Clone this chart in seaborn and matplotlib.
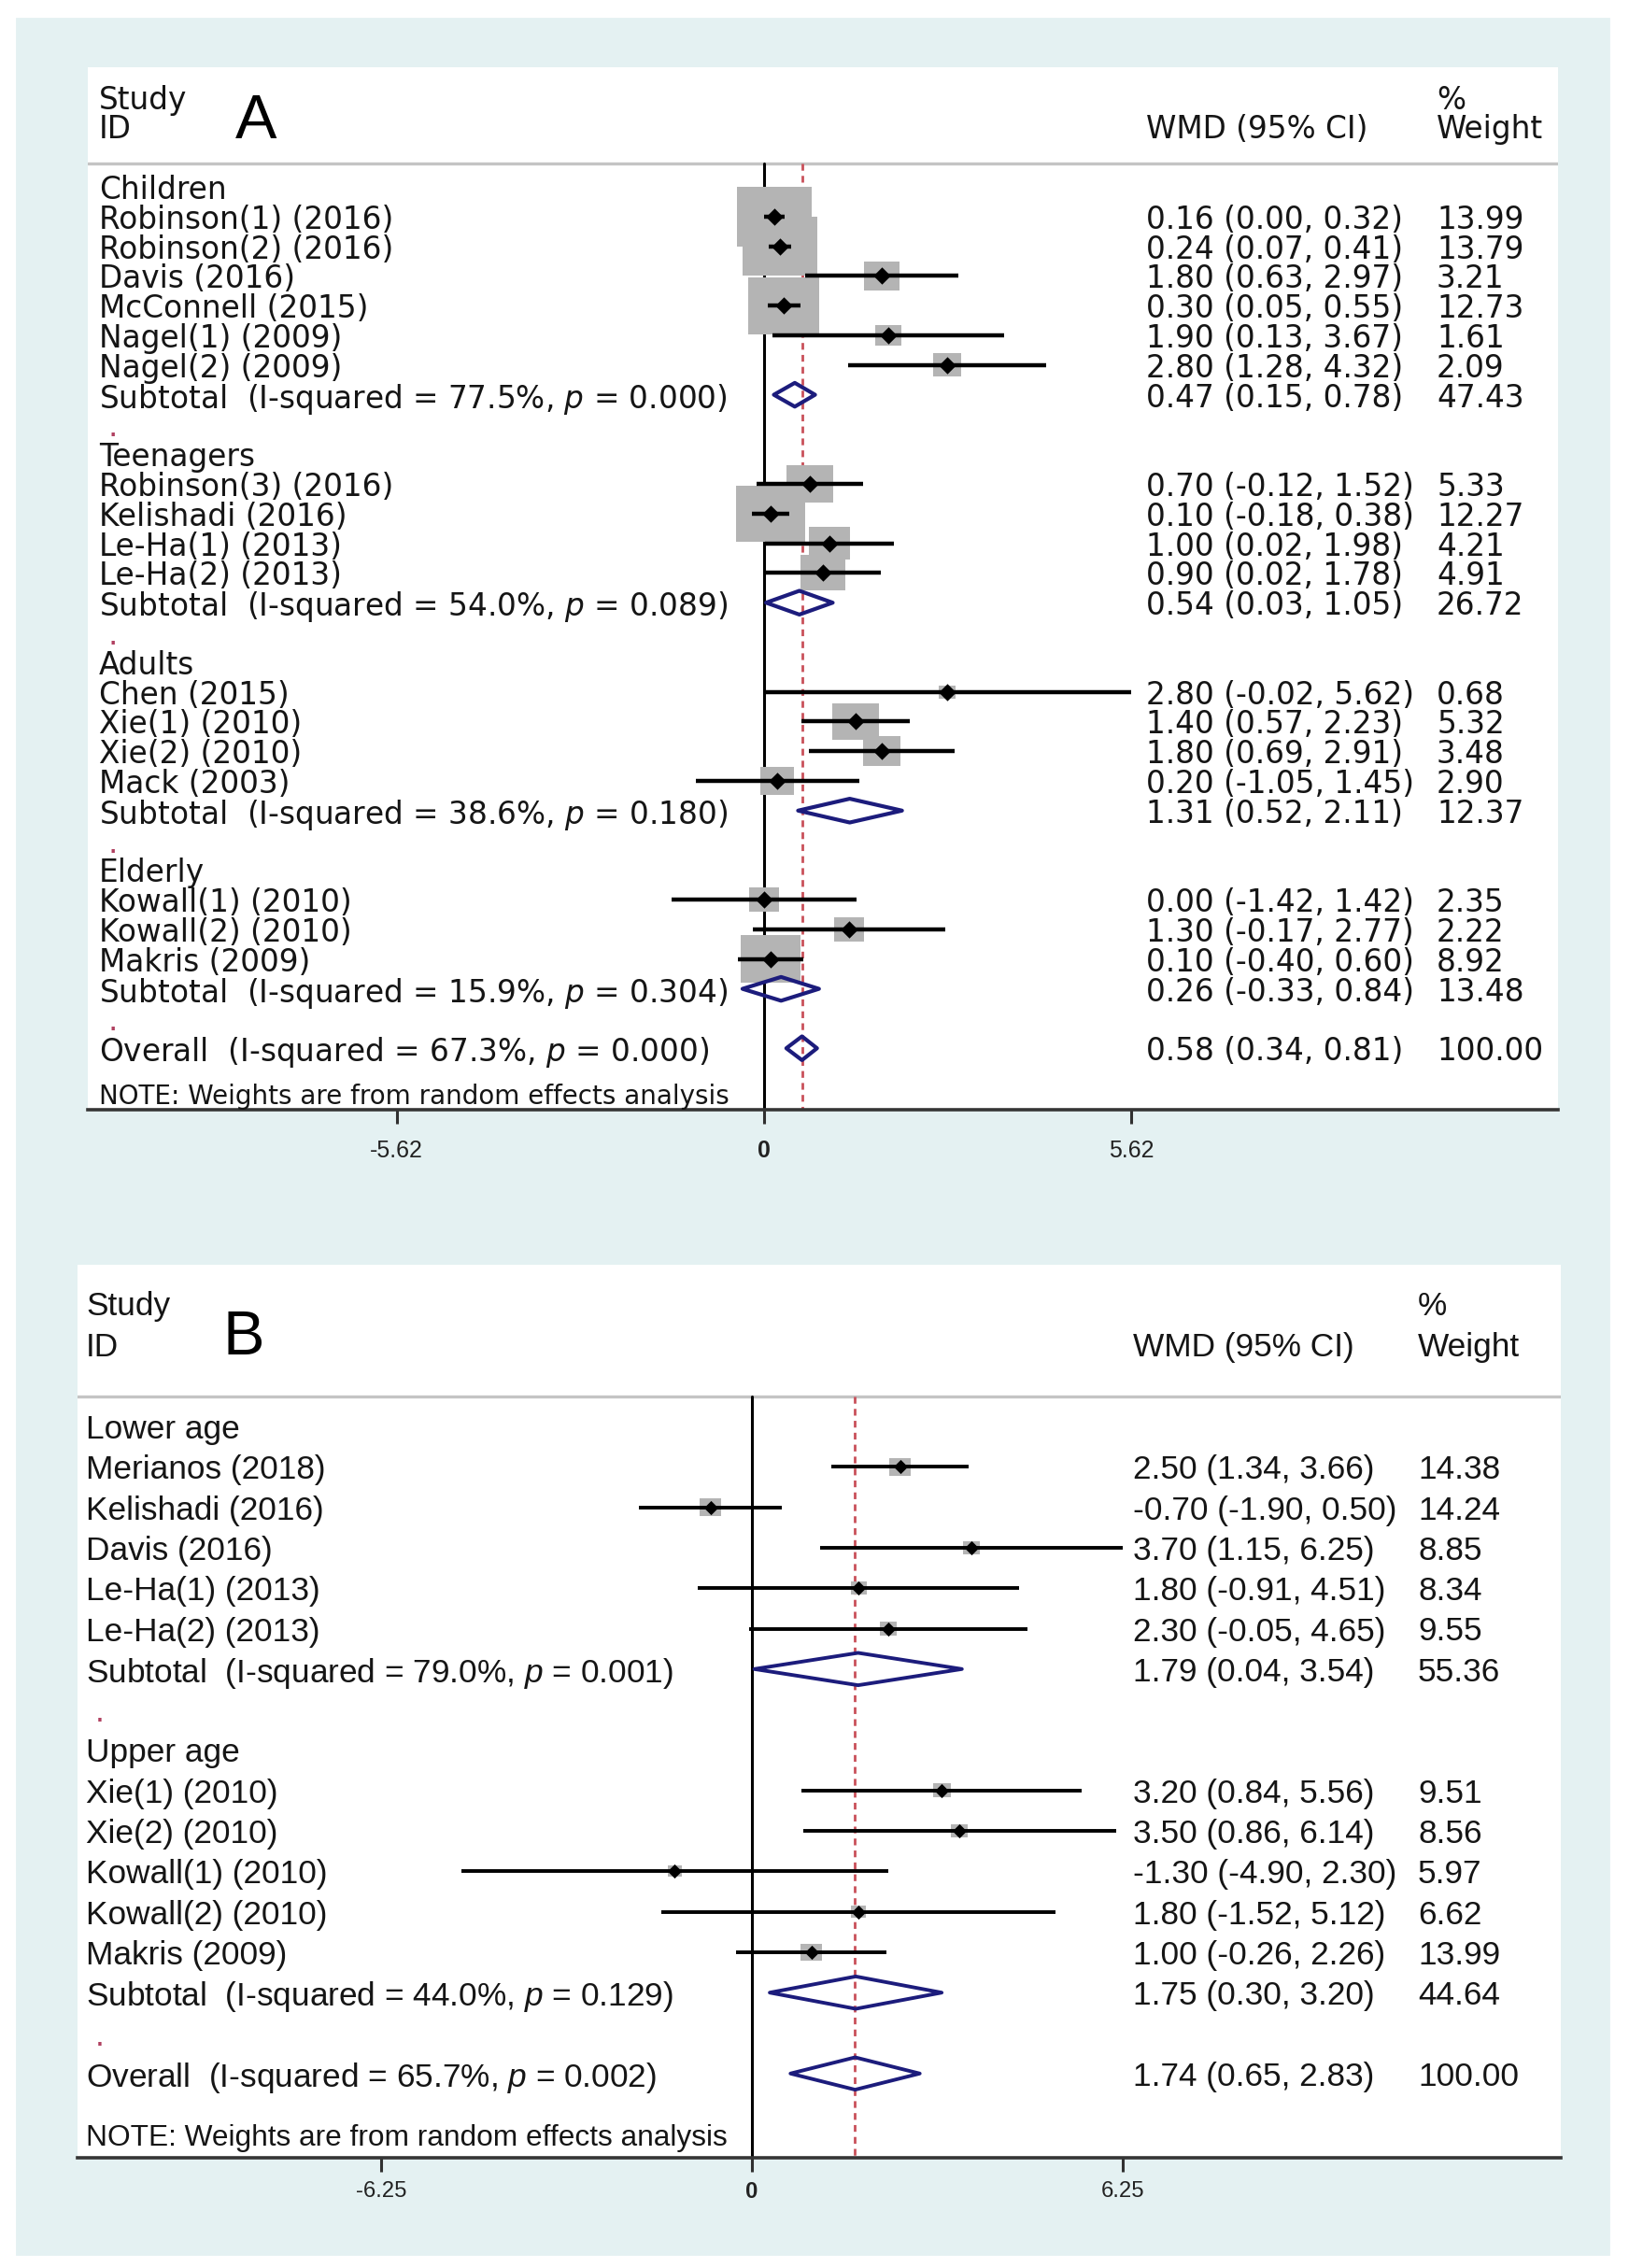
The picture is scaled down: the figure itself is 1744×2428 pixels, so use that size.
import numpy as np
import pandas as pd
import matplotlib
matplotlib.use("Agg")
import matplotlib.pyplot as plt
import matplotlib.transforms as mtransforms
from matplotlib.patches import Polygon, Rectangle
import seaborn as sns

# ---------------- Panel A: age groups ----------------
a_label = ["Children", "Robinson(1) (2016)", "Robinson(2) (2016)", "Davis (2016)",
           "McConnell (2015)", "Nagel(1) (2009)", "Nagel(2) (2009)",
           "Subtotal  (I-squared = 77.5%, $p$ = 0.000)", "",
           "Teenagers", "Robinson(3) (2016)", "Kelishadi (2016)", "Le-Ha(1) (2013)",
           "Le-Ha(2) (2013)", "Subtotal  (I-squared = 54.0%, $p$ = 0.089)", "",
           "Adults", "Chen (2015)", "Xie(1) (2010)", "Xie(2) (2010)", "Mack (2003)",
           "Subtotal  (I-squared = 38.6%, $p$ = 0.180)", "",
           "Elderly", "Kowall(1) (2010)", "Kowall(2) (2010)", "Makris (2009)",
           "Subtotal  (I-squared = 15.9%, $p$ = 0.304)", "",
           "Overall  (I-squared = 67.3%, $p$ = 0.000)"]
a_kind = ["group", "study", "study", "study", "study", "study", "study", "sub", "blank",
          "group", "study", "study", "study", "study", "sub", "blank",
          "group", "study", "study", "study", "study", "sub", "blank",
          "group", "study", "study", "study", "sub", "blank", "overall"]
a_est = [np.nan, 0.16, 0.24, 1.80, 0.30, 1.90, 2.80, 0.47, np.nan,
         np.nan, 0.70, 0.10, 1.00, 0.90, 0.54, np.nan,
         np.nan, 2.80, 1.40, 1.80, 0.20, 1.31, np.nan,
         np.nan, 0.00, 1.30, 0.10, 0.26, np.nan, 0.58]
a_lo = [np.nan, 0.00, 0.07, 0.63, 0.05, 0.13, 1.28, 0.15, np.nan,
        np.nan, -0.12, -0.18, 0.02, 0.02, 0.03, np.nan,
        np.nan, -0.02, 0.57, 0.69, -1.05, 0.52, np.nan,
        np.nan, -1.42, -0.17, -0.40, -0.33, np.nan, 0.34]
a_hi = [np.nan, 0.32, 0.41, 2.97, 0.55, 3.67, 4.32, 0.78, np.nan,
        np.nan, 1.52, 0.38, 1.98, 1.78, 1.05, np.nan,
        np.nan, 5.62, 2.23, 2.91, 1.45, 2.11, np.nan,
        np.nan, 1.42, 2.77, 0.60, 0.84, np.nan, 0.81]
a_wt = [np.nan, 13.99, 13.79, 3.21, 12.73, 1.61, 2.09, 47.43, np.nan,
        np.nan, 5.33, 12.27, 4.21, 4.91, 26.72, np.nan,
        np.nan, 0.68, 5.32, 3.48, 2.90, 12.37, np.nan,
        np.nan, 2.35, 2.22, 8.92, 13.48, np.nan, 100.00]
a_ticks = [-5.62, 0, 5.62]
a_tick_labels = ["-5.62", "0", "5.62"]

# ---------------- Panel B: lower / upper age ----------------
b_label = ["Lower age", "Merianos (2018)", "Kelishadi (2016)", "Davis (2016)",
           "Le-Ha(1) (2013)", "Le-Ha(2) (2013)",
           "Subtotal  (I-squared = 79.0%, $p$ = 0.001)", "",
           "Upper age", "Xie(1) (2010)", "Xie(2) (2010)", "Kowall(1) (2010)",
           "Kowall(2) (2010)", "Makris (2009)",
           "Subtotal  (I-squared = 44.0%, $p$ = 0.129)", "",
           "Overall  (I-squared = 65.7%, $p$ = 0.002)"]
b_kind = ["group", "study", "study", "study", "study", "study", "sub", "blank",
          "group", "study", "study", "study", "study", "study", "sub", "blank", "overall"]
b_est = [np.nan, 2.50, -0.70, 3.70, 1.80, 2.30, 1.79, np.nan,
         np.nan, 3.20, 3.50, -1.30, 1.80, 1.00, 1.75, np.nan, 1.74]
b_lo = [np.nan, 1.34, -1.90, 1.15, -0.91, -0.05, 0.04, np.nan,
        np.nan, 0.84, 0.86, -4.90, -1.52, -0.26, 0.30, np.nan, 0.65]
b_hi = [np.nan, 3.66, 0.50, 6.25, 4.51, 4.65, 3.54, np.nan,
        np.nan, 5.56, 6.14, 2.30, 5.12, 2.26, 3.20, np.nan, 2.83]
b_wt = [np.nan, 14.38, 14.24, 8.85, 8.34, 9.55, 55.36, np.nan,
        np.nan, 9.51, 8.56, 5.97, 6.62, 13.99, 44.64, np.nan, 100.00]
b_ticks = [-6.25, 0, 6.25]
b_tick_labels = ["-6.25", "0", "6.25"]

W, H, DPI = 1744, 2428, 200
BG = "#e4f1f2"
TXT = "#151515"
NAVY = "#1c1c7c"
BOX = "#b4b4b4"
RED = "#c9505a"

sns.set_theme(style="white")
plt.rcParams["font.family"] = ["Liberation Sans", "DejaVu Sans"]
plt.rcParams["mathtext.fontset"] = "custom"
plt.rcParams["mathtext.rm"] = "Liberation Sans"
plt.rcParams["mathtext.it"] = "Liberation Sans:italic"

# box marker, a bit wider than tall like the original render
rect_marker = [(-0.5, -0.4), (0.5, -0.4), (0.5, 0.4), (-0.5, 0.4), (-0.5, -0.4)]


def make_df(label, kind, est, lo, hi, wt):
    df = pd.DataFrame({"label": label, "kind": kind, "est": est,
                       "lo": lo, "hi": hi, "wt": wt})
    df["row"] = np.arange(len(df))
    return df


def draw_panel(fig, df, ticks, tick_labels, cfg):
    L, R, T, B = cfg["left"], cfg["right"], cfg["top"], cfg["bottom"]
    ax = fig.add_axes([L / W, 1 - B / H, (R - L) / W, (B - T) / H])
    ax.set_facecolor("white")

    to_row = lambda py: (py - cfg["row0"]) / cfg["step"]
    to_ax = lambda px: (px - L) / (R - L)
    ax.set_xlim((L - cfg["zero"]) / cfg["scale"], (R - cfg["zero"]) / cfg["scale"])
    ax.set_ylim(to_row(B), to_row(T))
    tr = mtransforms.blended_transform_factory(ax.transAxes, ax.transData)

    fkw = dict(fontfamily=cfg["font"], fontsize=cfg["fs"], color=TXT)
    if cfg.get("mathfam"):
        fkw["math_fontfamily"] = cfg["mathfam"]

    hdr = to_row(cfg["header"])
    ax.axhline(hdr, color="#c4c4c4", lw=1.2, zorder=1)
    bottom_row = to_row(B)

    # reference lines
    overall = df.loc[df["kind"] == "overall", "est"].iloc[0]
    ax.plot([0, 0], [hdr, bottom_row], color="black", lw=1.1, zorder=1)
    ax.plot([overall, overall], [hdr, bottom_row], color=RED, lw=1.0,
            dashes=(2.6, 2.0), zorder=1)

    # study rows
    st = df[df["kind"] == "study"]
    ax.scatter(st["est"], st["row"], s=st["wt"] * cfg["box_k"], marker=rect_marker,
               color=BOX, linewidths=0, zorder=2)
    ax.hlines(st["row"], st["lo"], st["hi"], color="black", lw=cfg["ci_lw"], zorder=3)
    sns.scatterplot(data=st, x="est", y="row", marker="D", s=cfg["dot_s"],
                    color="black", linewidth=0, legend=False, zorder=4, ax=ax)

    # pooled diamonds
    h = 0.4
    for _, r in df[df["kind"].isin(["sub", "overall"])].iterrows():
        pts = [(r["lo"], r["row"]), (r["est"], r["row"] - h),
               (r["hi"], r["row"]), (r["est"], r["row"] + h)]
        ax.add_patch(Polygon(pts, closed=True, fill=False, edgecolor=NAVY,
                             lw=cfg["dia_lw"], joinstyle="round", zorder=3))

    # text columns
    for _, r in df.iterrows():
        if r["kind"] == "blank":
            ax.text(to_ax(cfg["lab_x"] + 15), r["row"], ".", transform=tr,
                    ha="center", va="center_baseline", fontfamily=cfg["font"],
                    fontsize=cfg["fs"], color="#b04060")
            continue
        ax.text(to_ax(cfg["lab_x"]), r["row"], r["label"], transform=tr, ha="left",
                va="center_baseline", **fkw)
        if r["kind"] != "group":
            ax.text(to_ax(cfg["ci_x"]), r["row"],
                    f"{r['est']:.2f} ({r['lo']:.2f}, {r['hi']:.2f})",
                    transform=tr, ha="left", va="center_baseline", **fkw)
            ax.text(to_ax(cfg["wt_x"]), r["row"], f"{r['wt']:.2f}",
                    transform=tr, ha="left", va="center_baseline", **fkw)

    ax.text(to_ax(cfg["lab_x"]), to_row(cfg["note_y"]),
            "NOTE: Weights are from random effects analysis", transform=tr,
            ha="left", va="center_baseline", fontfamily=cfg["font"],
            fontsize=cfg["note_fs"], color=TXT)

    # header
    y1, y2 = to_row(cfg["hdr1"]), to_row(cfg["hdr2"])
    ax.text(to_ax(cfg["lab_x"]), y1, "Study", transform=tr, va="baseline", **fkw)
    ax.text(to_ax(cfg["lab_x"]), y2, "ID", transform=tr, va="baseline", **fkw)
    ax.text(to_ax(cfg["ci_x"]), y2, "WMD (95% CI)", transform=tr, va="baseline", **fkw)
    ax.text(to_ax(cfg["wt_x"]), y1, "%", transform=tr, va="baseline", **fkw)
    ax.text(to_ax(cfg["wt_x"]), y2, "Weight", transform=tr, va="baseline", **fkw)
    ax.text(to_ax(cfg["letter_x"]), to_row(cfg["letter_y"]), cfg["letter"],
            transform=tr, va="baseline", ha="left", fontfamily="Liberation Sans",
            fontsize=24, color="black")

    # axis
    for s in ["top", "left", "right"]:
        ax.spines[s].set_visible(False)
    ax.spines["bottom"].set_color("#353535")
    ax.spines["bottom"].set_linewidth(1.3)
    ax.set_xticks(ticks)
    ax.set_xticklabels(tick_labels)
    ax.set_yticks([])
    ax.tick_params(axis="x", direction="out", length=5.4, width=1.1, color="#303030",
                   pad=cfg["tick_pad"], labelsize=cfg["tick_fs"], labelcolor="#222222",
                   bottom=True)
    for lab in ax.get_xticklabels():
        lab.set_fontfamily("Liberation Sans")
        if lab.get_text() == "0":
            lab.set_fontweight("bold")
    ax.set_xlabel("")
    ax.set_ylabel("")
    return ax


fig = plt.figure(figsize=(W / DPI, H / DPI), dpi=DPI, facecolor="white")
fig.patches.append(Rectangle((18 / W, 1 - 2413 / H), (1722 - 18) / W, (2413 - 20) / H,
                             transform=fig.transFigure, color=BG, zorder=-10))

cfg_a = dict(left=94, right=1668, top=72, bottom=1188, zero=818, scale=70.0,
             row0=200, step=31.8, header=175, font="DejaVu Sans", fs=11.8,
             mathfam="dejavusans", lab_x=106, ci_x=1227, wt_x=1538,
             hdr1=117, hdr2=148, letter="A", letter_x=252, letter_y=148,
             note_y=1171, note_fs=10, box_k=59.3, ci_lw=1.6, dot_s=22,
             dia_lw=1.5, tick_fs=9, tick_pad=6)
cfg_b = dict(left=83, right=1671, top=1354, bottom=2310, zero=805, scale=63.5,
             row0=1527, step=43.3, header=1495, font="Liberation Sans", fs=12.7,
             mathfam=None, lab_x=92, ci_x=1213, wt_x=1518,
             hdr1=1408, hdr2=1452, letter="B", letter_x=238, letter_y=1450,
             note_y=2286, note_fs=11.4, box_k=4.8, ci_lw=1.4, dot_s=15,
             dia_lw=1.4, tick_fs=8.6, tick_pad=3.5)

df_a = make_df(a_label, a_kind, a_est, a_lo, a_hi, a_wt)
df_b = make_df(b_label, b_kind, b_est, b_lo, b_hi, b_wt)
draw_panel(fig, df_a, a_ticks, a_tick_labels, cfg_a)
draw_panel(fig, df_b, b_ticks, b_tick_labels, cfg_b)

fig.savefig("out.png", dpi=DPI, facecolor="white")
